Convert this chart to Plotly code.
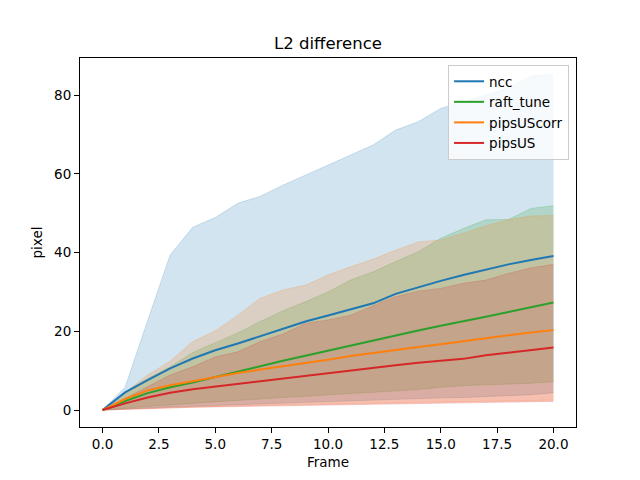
import plotly.graph_objects as go

# ============================================================================
# DATA
# ============================================================================
frames = list(range(21))

ncc_mean = [0, 4.5, 7.6, 10.6, 13.1, 15.2, 16.9, 18.8, 20.7, 22.5, 24.0, 25.6, 27.1, 29.5, 31.2, 32.8, 34.3, 35.7, 37.0, 38.1, 39.1]
ncc_upper = [0, 5.8, 22.7, 39.4, 46.4, 48.9, 52.5, 54.3, 57.1, 59.7, 62.2, 64.8, 67.3, 71.1, 73.2, 76.6, 78.3, 80.0, 81.7, 84.8, 85.2]
ncc_lower = [0, 0.3, 0.6, 0.8, 1.0, 1.2, 1.4, 1.6, 1.8, 2.0, 2.1, 2.3, 2.5, 2.7, 2.9, 3.1, 3.2, 3.4, 3.6, 3.9, 4.4]

raft_mean = [0, 2.3, 4.3, 5.8, 7.0, 8.4, 9.8, 11.2, 12.5, 13.8, 15.1, 16.4, 17.7, 19.0, 20.2, 21.4, 22.5, 23.7, 24.9, 26.1, 27.3]
raft_upper = [0, 4.6, 8.0, 11.0, 14.6, 17.2, 19.6, 22.5, 25.2, 27.5, 30.0, 33.0, 35.1, 37.7, 40.2, 43.6, 46.1, 48.3, 48.4, 51.2, 51.9]
raft_lower = [0, 0.5, 0.9, 1.3, 1.7, 2.1, 2.4, 2.8, 3.2, 3.5, 3.9, 4.2, 4.5, 4.8, 5.2, 5.8, 6.2, 6.4, 6.6, 6.8, 7.2]

corr_mean = [0, 2.8, 5.0, 6.3, 7.3, 8.4, 9.4, 10.3, 11.1, 11.9, 12.8, 13.7, 14.5, 15.3, 16.0, 16.7, 17.5, 18.3, 19.0, 19.7, 20.3]
corr_upper = [0, 4.5, 8.9, 12.4, 17.4, 20.1, 24.1, 28.4, 30.5, 31.7, 34.3, 36.4, 38.3, 40.6, 42.7, 43.2, 44.9, 46.8, 48.3, 49.3, 49.4]
corr_lower = [0, 0.2, 0.4, 0.6, 0.8, 0.9, 1.1, 1.2, 1.3, 1.4, 1.6, 1.7, 1.8, 1.9, 2.0, 2.0, 2.1, 2.2, 2.3, 2.4, 2.5]

us_mean = [0, 1.7, 3.2, 4.4, 5.3, 6.0, 6.7, 7.3, 8.0, 8.7, 9.4, 10.1, 10.7, 11.4, 12.0, 12.5, 13.0, 13.9, 14.6, 15.3, 15.9]
us_upper = [0, 3.0, 6.0, 8.9, 11.0, 13.5, 14.8, 17.4, 19.3, 22.0, 22.9, 24.1, 26.5, 28.8, 30.2, 30.9, 32.2, 33.0, 34.7, 36.1, 37.0]
us_lower = [0, 0.2, 0.4, 0.5, 0.7, 0.8, 0.9, 1.0, 1.1, 1.2, 1.3, 1.4, 1.5, 1.6, 1.7, 1.7, 1.8, 1.9, 2.0, 2.1, 2.2]

series = [
    ("ncc", "31,119,180", ncc_mean, ncc_upper, ncc_lower),
    ("raft_tune", "44,160,44", raft_mean, raft_upper, raft_lower),
    ("pipsUScorr", "255,127,14", corr_mean, corr_upper, corr_lower),
    ("pipsUS", "214,39,40", us_mean, us_upper, us_lower),
]

fig = go.Figure()

# bands first (under all lines, like matplotlib's fill_between)
for name, rgb, mean, upper, lower in series:
    fig.add_trace(go.Scatter(
        x=frames, y=lower, mode='lines',
        line=dict(color=f'rgba({rgb},0.2)', width=1),
        showlegend=False, hoverinfo='skip'))
    fig.add_trace(go.Scatter(
        x=frames, y=upper, mode='lines', fill='tonexty',
        fillcolor=f'rgba({rgb},0.2)',
        line=dict(color=f'rgba({rgb},0.2)', width=1),
        showlegend=False, hoverinfo='skip'))

for name, rgb, mean, upper, lower in series:
    fig.add_trace(go.Scatter(
        x=frames, y=mean, mode='lines', name=name,
        line=dict(color=f'rgb({rgb})', width=2)))

axis_style = dict(
    showline=True, mirror=True, linecolor='black', linewidth=1,
    ticks='outside', ticklen=5, tickcolor='black',
    showgrid=False, zeroline=False,
    tickfont=dict(size=13.5, color='black'),
)

fig.update_xaxes(range=[-1, 21], tick0=0, dtick=2.5, tickformat='.1f',
                 title=dict(text='Frame', font=dict(size=13.5, color='black'), standoff=6),
                 **axis_style)
fig.update_yaxes(range=[-4.3, 89.4], tick0=0, dtick=20,
                 title=dict(text='pixel', font=dict(size=13.5, color='black'), standoff=8),
                 **axis_style)

# page body has an 8px margin, so shift the plot area up/left by that much
fig.update_layout(
    width=640, height=480,
    margin=dict(l=72, r=72, t=50, b=61),
    plot_bgcolor='white', paper_bgcolor='white',
    font=dict(family='DejaVu Sans', color='black'),
    title=dict(text='L2 difference', x=0.5, xref='paper', y=1 - 35 / 480, yanchor='middle',
               font=dict(size=16.5, color='black')),
    legend=dict(x=0.986, y=0.981, xanchor='right', yanchor='top', traceorder='normal',
                bgcolor='rgba(255,255,255,0.8)', bordercolor='#cccccc', borderwidth=1,
                font=dict(size=13.5, color='black'), tracegroupgap=0),
)

fig.write_html("out.html")
